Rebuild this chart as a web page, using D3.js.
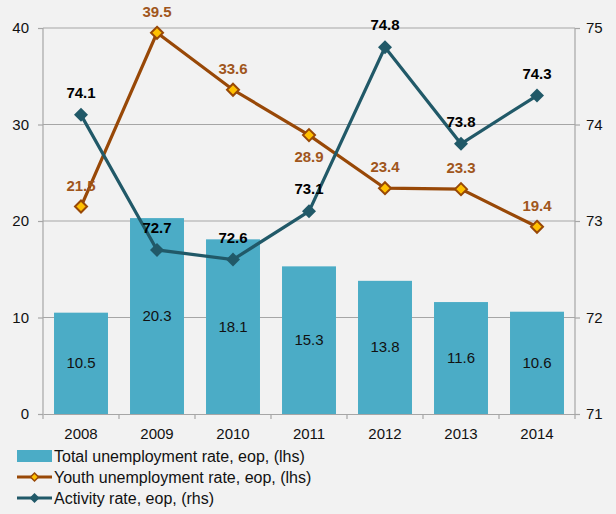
<!DOCTYPE html>
<html>
<head>
<meta charset="utf-8">
<script src="https://cdn.jsdelivr.net/npm/d3@7"></script>
<style>
  body { margin: 0; background: #f2f2f2; }
  svg { display: block; font-family: "Liberation Sans", Arial, sans-serif; }
</style>
</head>
<body>
<script>
//chart data
var years = ["2008", "2009", "2010", "2011", "2012", "2013", "2014"];
var totalUnemp = [10.5, 20.3, 18.1, 15.3, 13.8, 11.6, 10.6]; //bars, lhs
var youthUnemp = [21.5, 39.5, 33.6, 28.9, 23.4, 23.3, 19.4]; //line, lhs
var activity = [74.1, 72.7, 72.6, 73.1, 74.8, 73.8, 74.3]; //line, rhs
var leftTicks = [0, 10, 20, 30, 40];
var rightTicks = [71, 72, 73, 74, 75];
var legendNames = ["Total unemployment rate, eop, (lhs)", "Youth unemployment rate, eop, (lhs)", "Activity rate, eop, (rhs)"];

var width = 616, height = 514;
var padLeft = 43, padRight = 575, padTop = 28, padBottom = 414;

var barColor = "#4bacc6",
    youthColor = "#984807",
    youthLabel = "#a0561c",
    actColor = "#215968",
    gridColor = "#a6a6a6";

var svg = d3.select("body").append("svg")
  .attr("width", width)
  .attr("height", height);

svg.append("rect").attr("width", width).attr("height", height).attr("fill", "#f2f2f2");

var x = d3.scaleBand().domain(years).range([padLeft, padRight]).paddingInner(0.29).paddingOuter(0.145);
var xc = d3.scaleBand().domain(years).range([padLeft, padRight]); //category slots for lines
var yL = d3.scaleLinear().domain([0, 40]).range([padBottom, padTop]);
var yR = d3.scaleLinear().domain([71, 75]).range([padBottom, padTop]);

function cx(d, i){ return xc(years[i]) + xc.bandwidth() / 2; }

//gridlines
svg.append("g").selectAll("line")
  .data(leftTicks.slice(1))
  .enter().append("line")
  .attr("x1", padLeft).attr("x2", padRight)
  .attr("y1", function(d){ return yL(d); })
  .attr("y2", function(d){ return yL(d); })
  .attr("stroke", gridColor).attr("stroke-width", 1.2);

//bars
svg.append("g").selectAll("rect")
  .data(totalUnemp)
  .enter().append("rect")
  .attr("x", function(d, i){ return x(years[i]); })
  .attr("width", x.bandwidth())
  .attr("y", function(d){ return yL(d); })
  .attr("height", function(d){ return padBottom - yL(d); })
  .attr("fill", barColor);

svg.append("g").selectAll("text")
  .data(totalUnemp)
  .enter().append("text")
  .attr("x", cx)
  .attr("y", function(d){ return (yL(d) + padBottom) / 2 + 5; })
  .attr("text-anchor", "middle")
  .attr("font-size", 15)
  .attr("fill", "#111")
  .text(function(d){ return d.toFixed(1); });

//axes
var axisL = d3.axisLeft(yL).tickValues(leftTicks).tickSize(5).tickPadding(9);
var gL = svg.append("g").attr("transform", "translate(" + padLeft + ",0)").call(axisL);
var axisR = d3.axisRight(yR).tickValues(rightTicks).tickFormat(d3.format("d")).tickSize(5).tickPadding(6);
var gR = svg.append("g").attr("transform", "translate(" + padRight + ",0)").call(axisR);
var axisB = d3.axisBottom(xc).tickSize(0).tickPadding(14);
var gB = svg.append("g").attr("transform", "translate(0," + padBottom + ")").call(axisB);

[gL, gR, gB].forEach(function(g){
  g.select(".domain").attr("stroke", gridColor).attr("stroke-width", 1.2);
  g.selectAll(".tick line").attr("stroke", gridColor).attr("stroke-width", 1.2);
  g.selectAll(".tick text").attr("font-size", 15).attr("fill", "#111")
    .attr("font-family", "Liberation Sans, Arial, sans-serif");
});
gL.select(".domain").attr("d", "M0," + padTop + "V" + padBottom);
gR.select(".domain").attr("d", "M0," + padTop + "V" + padBottom);

//category boundary ticks under x axis
svg.append("g").selectAll("line")
  .data(years.concat(["end"]))
  .enter().append("line")
  .attr("x1", function(d, i){ return padLeft + i * xc.step(); })
  .attr("x2", function(d, i){ return padLeft + i * xc.step(); })
  .attr("y1", padBottom).attr("y2", padBottom + 5)
  .attr("stroke", gridColor).attr("stroke-width", 1.2);

function diamond(s){
  return "M0," + (-s) + "L" + s + ",0L0," + s + "L" + (-s) + ",0Z";
}

//youth unemployment line
var lineL = d3.line().x(cx).y(function(d){ return yL(d); });
svg.append("path").datum(youthUnemp)
  .attr("d", lineL)
  .attr("fill", "none").attr("stroke", youthColor).attr("stroke-width", 3.2);

//activity line
var lineR = d3.line().x(cx).y(function(d){ return yR(d); });
svg.append("path").datum(activity)
  .attr("d", lineR)
  .attr("fill", "none").attr("stroke", actColor).attr("stroke-width", 3.2);

svg.append("g").selectAll("path")
  .data(youthUnemp)
  .enter().append("path")
  .attr("transform", function(d, i){ return "translate(" + cx(d, i) + "," + yL(d) + ")"; })
  .attr("d", diamond(6))
  .attr("fill", "#ffc000").attr("stroke", youthColor).attr("stroke-width", 2);

svg.append("g").selectAll("path")
  .data(activity)
  .enter().append("path")
  .attr("transform", function(d, i){ return "translate(" + cx(d, i) + "," + yR(d) + ")"; })
  .attr("d", diamond(7))
  .attr("fill", actColor);

//line labels
svg.append("g").selectAll("text")
  .data(youthUnemp)
  .enter().append("text")
  .attr("x", cx)
  .attr("y", function(d, i){ return i == 3 ? yL(d) + 27 : yL(d) - 16; })
  .attr("text-anchor", "middle")
  .attr("font-size", 15).attr("font-weight", "bold")
  .attr("fill", youthLabel)
  .text(function(d){ return d.toFixed(1); });

svg.append("g").selectAll("text")
  .data(activity)
  .enter().append("text")
  .attr("x", cx)
  .attr("y", function(d){ return yR(d) - 17; })
  .attr("text-anchor", "middle")
  .attr("font-size", 15).attr("font-weight", "bold")
  .attr("fill", "#000")
  .text(function(d){ return d.toFixed(1); });

//legend
var legend = svg.append("g").attr("transform", "translate(17,456)");
legend.append("rect").attr("x", 0).attr("y", -6).attr("width", 35).attr("height", 12).attr("fill", barColor);
legend.append("line").attr("x1", 0).attr("x2", 35).attr("y1", 21).attr("y2", 21)
  .attr("stroke", youthColor).attr("stroke-width", 3);
legend.append("path").attr("transform", "translate(17.5,21)").attr("d", diamond(4))
  .attr("fill", "#ffc000").attr("stroke", youthColor).attr("stroke-width", 1.5);
legend.append("line").attr("x1", 0).attr("x2", 35).attr("y1", 42).attr("y2", 42)
  .attr("stroke", actColor).attr("stroke-width", 3);
legend.append("path").attr("transform", "translate(17.5,42)").attr("d", diamond(5))
  .attr("fill", actColor);
legend.selectAll("text")
  .data(legendNames)
  .enter().append("text")
  .attr("x", 37)
  .attr("y", function(d, i){ return i * 21 + 6; })
  .attr("font-size", 16)
  .attr("fill", "#111")
  .text(function(d){ return d; });
</script>
</body>
</html>
